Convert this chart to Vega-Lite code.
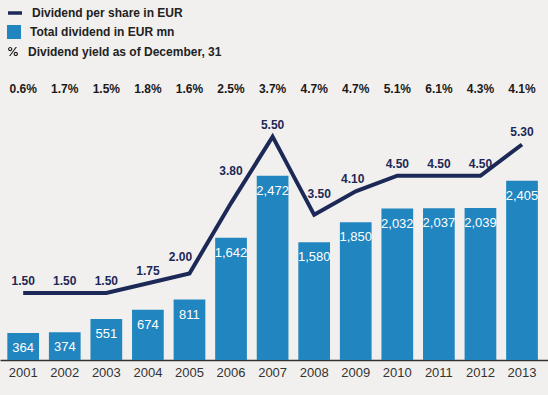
{
  "$schema": "https://vega.github.io/schema/vega-lite/v6.json",
  "width": 548,
  "height": 280,
  "autosize": {"type": "none"},
  "padding": {"left": 0, "top": 80, "right": 0, "bottom": 35},
  "background": "#f2f0ee",
  "config": {
    "font": "Liberation Sans",
    "view": {"stroke": null},
    "legend": {
      "title": null,
      "orient": "none",
      "padding": 0,
      "labelOffset": 8,
      "symbolSize": 196,
      "labelFontSize": 12,
      "labelFontWeight": "bold",
      "labelColor": "#222222",
      "labelFont": "Liberation Sans",
      "labelLimit": 400
    }
  },
  "data": {
    "values": [
      {"year": "2001", "total": 364, "dps": 1.50, "yield": 0.006},
      {"year": "2002", "total": 374, "dps": 1.50, "yield": 0.017},
      {"year": "2003", "total": 551, "dps": 1.50, "yield": 0.015},
      {"year": "2004", "total": 674, "dps": 1.75, "yield": 0.018},
      {"year": "2005", "total": 811, "dps": 2.00, "yield": 0.016},
      {"year": "2006", "total": 1642, "dps": 3.80, "yield": 0.025},
      {"year": "2007", "total": 2472, "dps": 5.50, "yield": 0.037},
      {"year": "2008", "total": 1580, "dps": 3.50, "yield": 0.047},
      {"year": "2009", "total": 1850, "dps": 4.10, "yield": 0.047},
      {"year": "2010", "total": 2032, "dps": 4.50, "yield": 0.051},
      {"year": "2011", "total": 2037, "dps": 4.50, "yield": 0.061},
      {"year": "2012", "total": 2039, "dps": 4.50, "yield": 0.043},
      {"year": "2013", "total": 2405, "dps": 5.30, "yield": 0.041}
    ]
  },
  "encoding": {
    "x": {
      "field": "year",
      "type": "ordinal",
      "scale": {"paddingInner": 0.237, "paddingOuter": 0.21, "align": 0.42, "round": false},
      "axis": {
        "title": null,
        "labelAngle": 0,
        "ticks": false,
        "domainColor": "#333333",
        "domainWidth": 1.5,
        "labelPadding": 6,
        "labelFontSize": 13,
        "labelColor": "#333333",
        "labelFont": "Liberation Sans"
      }
    }
  },
  "layer": [
    {
      "layer": [
        {
          "mark": {"type": "bar"},
          "encoding": {
            "y": {"field": "total", "type": "quantitative", "scale": {"domain": [0, 3758], "nice": false, "zero": false}, "axis": null},
            "fill": {
              "datum": "Total dividend in EUR mn",
              "type": "nominal",
              "scale": {"range": ["#2186bf"]},
              "legend": {"legendX": 6, "legendY": -56, "symbolType": "square", "symbolOpacity": 1}
            }
          }
        },
        {
          "mark": {"type": "text", "color": "white", "fontSize": 13, "baseline": "middle", "dy": 15},
          "encoding": {
            "y": {"field": "total", "type": "quantitative", "axis": null},
            "text": {"field": "total", "type": "quantitative", "format": ","}
          }
        }
      ]
    },
    {
      "layer": [
        {
          "mark": {"type": "line", "strokeWidth": 4},
          "encoding": {
            "y": {"field": "dps", "type": "quantitative", "scale": {"domain": [-0.215, 6.95], "nice": false, "zero": false}, "axis": null},
            "stroke": {
              "datum": "Dividend per share in EUR",
              "type": "nominal",
              "scale": {"range": ["#1c2957"]},
              "legend": {"legendX": 6, "legendY": -76, "symbolType": "M-1,0H1", "symbolStrokeWidth": 3.5}
            }
          }
        },
        {
          "transform": [{"filter": "datum.year !== '2005' && datum.year !== '2006' && datum.year !== '2008' && datum.year !== '2009'"}],
          "mark": {"type": "text", "color": "#1c2957", "fontSize": 12, "fontWeight": "bold", "baseline": "middle", "dy": -12},
          "encoding": {
            "y": {"field": "dps", "type": "quantitative", "axis": null},
            "text": {"field": "dps", "type": "quantitative", "format": ".2f"}
          }
        },
        {
          "transform": [{"filter": "datum.year === '2005'"}],
          "mark": {"type": "text", "color": "#1c2957", "fontSize": 12, "fontWeight": "bold", "baseline": "middle", "dx": -9, "dy": -16},
          "encoding": {
            "y": {"field": "dps", "type": "quantitative", "axis": null},
            "text": {"field": "dps", "type": "quantitative", "format": ".2f"}
          }
        },
        {
          "transform": [{"filter": "datum.year === '2006'"}],
          "mark": {"type": "text", "color": "#1c2957", "fontSize": 12, "fontWeight": "bold", "baseline": "middle", "dy": -32},
          "encoding": {
            "y": {"field": "dps", "type": "quantitative", "axis": null},
            "text": {"field": "dps", "type": "quantitative", "format": ".2f"}
          }
        },
        {
          "transform": [{"filter": "datum.year === '2008'"}],
          "mark": {"type": "text", "color": "#1c2957", "fontSize": 12, "fontWeight": "bold", "baseline": "middle", "dx": 5, "dy": -21},
          "encoding": {
            "y": {"field": "dps", "type": "quantitative", "axis": null},
            "text": {"field": "dps", "type": "quantitative", "format": ".2f"}
          }
        },
        {
          "transform": [{"filter": "datum.year === '2009'"}],
          "mark": {"type": "text", "color": "#1c2957", "fontSize": 12, "fontWeight": "bold", "baseline": "middle", "dx": -3, "dy": -12},
          "encoding": {
            "y": {"field": "dps", "type": "quantitative", "axis": null},
            "text": {"field": "dps", "type": "quantitative", "format": ".2f"}
          }
        },
        {
          "mark": {"type": "text", "fontSize": 12, "fontWeight": "bold", "baseline": "middle", "color": "#1a1a1a"},
          "encoding": {
            "y": {"datum": 6.72, "type": "quantitative", "axis": null},
            "text": {"field": "yield", "type": "quantitative", "format": ".1%"},
            "opacity": {
              "datum": "Dividend yield as of December, 31",
              "type": "nominal",
              "scale": {"range": [1]},
              "legend": {
                "legendX": 6,
                "legendY": -35.5,
                "symbolType": "M-0.71,-0.35A0.31,0.31 0 1,1 -0.09,-0.35A0.31,0.31 0 1,1 -0.71,-0.35ZM-0.54,-0.35A0.14,0.14 0 1,0 -0.26,-0.35A0.14,0.14 0 1,0 -0.54,-0.35ZM0.09,0.35A0.31,0.31 0 1,1 0.71,0.35A0.31,0.31 0 1,1 0.09,0.35ZM0.26,0.35A0.14,0.14 0 1,0 0.54,0.35A0.14,0.14 0 1,0 0.26,0.35ZM0.38,-0.66L0.56,-0.66L-0.38,0.66L-0.56,0.66Z",
                "symbolFillColor": "#1a1a1a",
                "symbolStrokeColor": "transparent",
                "symbolStrokeWidth": 0
              }
            }
          }
        }
      ]
    }
  ],
  "resolve": {"scale": {"y": "independent"}}
}
